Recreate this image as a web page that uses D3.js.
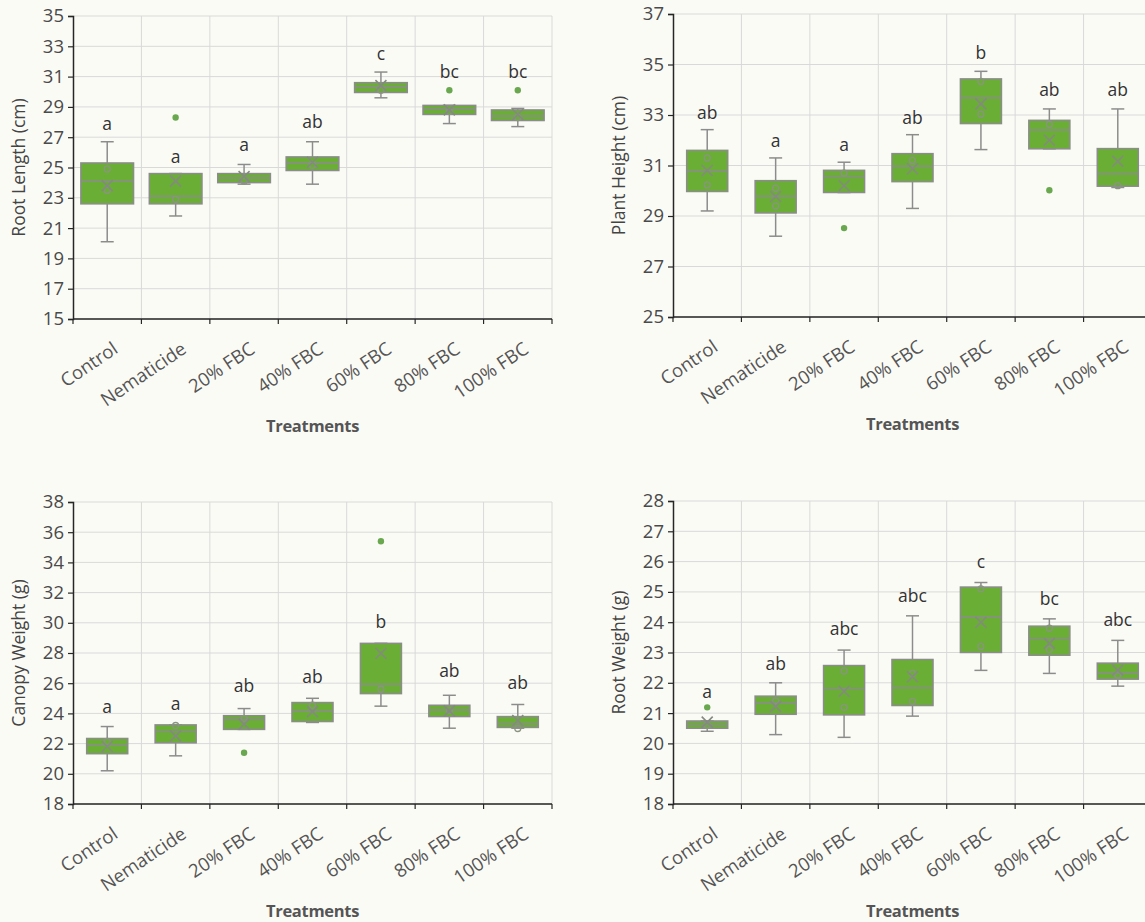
<!DOCTYPE html>
<html lang="en">
<head>
  <meta charset="utf-8">
  <title>Treatment box plots</title>
  <script src="https://d3js.org/d3.v7.min.js"></script>
  <style>
    body {
      margin: 0;
      background: #fbfbf6;
      font-family: "Open Sans", "Noto Sans", sans-serif;
    }
    svg { display: block; }
  </style>
</head>
<body>
  <svg id="chart" width="1145" height="922"></svg>

  <script>
    // categories shared by all four panels
    const treatments = ["Control", "Nematicide", "20% FBC", "40% FBC", "60% FBC", "80% FBC", "100% FBC"];

    // Root length (cm)
    const rlLow    = [20.1, 21.8, 23.9, 23.9, 29.6, 27.9, 27.7];
    const rlQ1     = [22.6, 22.6, 24.0, 24.8, 29.95, 28.5, 28.1];
    const rlMedian = [24.1, 23.1, 24.3, 25.3, 30.3, 28.85, 28.4];
    const rlQ3     = [25.3, 24.6, 24.6, 25.7, 30.6, 29.1, 28.8];
    const rlHigh   = [26.7, 24.6, 25.2, 26.7, 31.3, 29.1, 28.9];
    const rlMean   = [23.8, 24.1, 24.4, 25.35, 30.4, 28.8, 28.5];
    const rlInner  = [[24.9, 23.5], [22.9], [24.1], [25.15], [30.1], [28.7], [28.3]];
    const rlOut    = [[], [28.3], [], [], [], [30.1], [30.1]];
    const rlLetter = ["a", "a", "a", "ab", "c", "bc", "bc"];
    const rlLetterAt = [27.9, 25.7, 26.5, 28.0, 32.5, 31.3, 31.3];

    // Plant height (cm)
    const phLow    = [29.2, 28.2, 29.93, 29.3, 31.63, 31.66, 30.13];
    const phQ1     = [29.97, 29.12, 29.93, 30.36, 32.66, 31.66, 30.18];
    const phMedian = [30.77, 29.78, 30.56, 30.97, 33.68, 32.41, 30.67];
    const phQ3     = [31.6, 30.4, 30.81, 31.47, 34.43, 32.79, 31.67];
    const phHigh   = [32.42, 31.3, 31.13, 32.22, 34.73, 33.24, 33.24];
    const phMean   = [30.8, 29.77, 30.2, 30.87, 33.44, 32.0, 31.17];
    const phInner  = [[31.3, 30.23], [30.1, 29.4], [30.7], [31.2], [34.33, 33.03], [32.63], [30.2]];
    const phOut    = [[], [], [28.52], [], [], [30.02], []];
    const phLetter = ["ab", "a", "a", "ab", "b", "ab", "ab"];
    const phLetterAt = [33.1, 31.96, 31.8, 32.9, 35.47, 33.99, 33.99];

    // Canopy weight (g)
    const cwLow    = [20.2, 21.19, 22.94, 23.4, 24.48, 23.02, 23.02];
    const cwQ1     = [21.33, 22.05, 22.94, 23.46, 25.31, 23.79, 23.07];
    const cwMedian = [21.92, 22.8, 23.6, 24.17, 25.93, 24.23, 23.31];
    const cwQ3     = [22.34, 23.24, 23.85, 24.72, 28.64, 24.54, 23.79];
    const cwHigh   = [23.13, 23.24, 24.32, 25.0, 28.64, 25.2, 24.59];
    const cwMean   = [21.81, 22.51, 23.29, 24.12, 27.98, 24.17, 23.53];
    const cwInner  = [[22.14], [23.2], [23.66], [24.54], [25.6], [24.2], [23.0]];
    const cwOut    = [[], [], [21.39], [], [35.4], [], []];
    const cwLetter = ["a", "a", "ab", "ab", "b", "ab", "ab"];
    const cwLetterAt = [24.45, 24.63, 25.82, 26.39, 30.07, 26.83, 26.04];

    // Root weight (g)
    const rwLow    = [20.4, 20.29, 20.2, 20.9, 22.41, 22.31, 21.89];
    const rwQ1     = [20.5, 20.96, 20.94, 21.25, 23.0, 22.91, 22.12];
    const rwMedian = [20.63, 21.33, 21.81, 21.84, 24.17, 23.46, 22.32];
    const rwQ3     = [20.74, 21.56, 22.57, 22.77, 25.16, 23.87, 22.65];
    const rwHigh   = [20.74, 22.0, 23.08, 24.21, 25.31, 24.11, 23.4];
    const rwMean   = [20.7, 21.22, 21.72, 22.2, 24.0, 23.3, 22.42];
    const rwInner  = [[20.6], [21.4], [22.39, 21.19], [22.31, 21.39], [25.1, 23.2], [23.8, 23.1], [22.26]];
    const rwOut    = [[21.19], [], [], [], [], [], []];
    const rwLetter = ["a", "ab", "abc", "abc", "c", "bc", "abc"];
    const rwLetterAt = [21.71, 22.62, 23.77, 24.87, 25.99, 24.76, 24.07];

    function rows(lo, q1, med, q3, hi, mean, inner, out, letter, letterAt) {
      return treatments.map((t, i) => ({
        name: t, lo: lo[i], q1: q1[i], med: med[i], q3: q3[i], hi: hi[i],
        mean: mean[i], inner: inner[i], out: out[i], letter: letter[i], letterAt: letterAt[i]
      }));
    }

    const panels = [
      { title: "Root Length (cm)", domain: [15, 35], step: 2, boxRatio: 0.77,
        box: { left: 73, right: 552, top: 16, bottom: 319 },
        data: rows(rlLow, rlQ1, rlMedian, rlQ3, rlHigh, rlMean, rlInner, rlOut, rlLetter, rlLetterAt) },
      { title: "Plant Height (cm)", domain: [25, 37], step: 2, boxRatio: 0.6,
        box: { left: 673, right: 1152, top: 14, bottom: 317 },
        data: rows(phLow, phQ1, phMedian, phQ3, phHigh, phMean, phInner, phOut, phLetter, phLetterAt) },
      { title: "Canopy Weight (g)", domain: [18, 38], step: 2, boxRatio: 0.6,
        box: { left: 73, right: 552, top: 502, bottom: 804 },
        data: rows(cwLow, cwQ1, cwMedian, cwQ3, cwHigh, cwMean, cwInner, cwOut, cwLetter, cwLetterAt) },
      { title: "Root Weight (g)", domain: [18, 28], step: 1, boxRatio: 0.6,
        box: { left: 673, right: 1152, top: 501, bottom: 804 },
        data: rows(rwLow, rwQ1, rwMedian, rwQ3, rwHigh, rwMean, rwInner, rwOut, rwLetter, rwLetterAt) }
    ];

    const green = "#6aae35";
    const boxLine = "#8c8c8c";
    const svg = d3.select("#chart");

    panels.forEach(p => {
      const b = p.box;
      const g = svg.append("g");

      const x = d3.scaleBand().domain(treatments).range([b.left, b.right]);
      const y = d3.scaleLinear().domain(p.domain).range([b.bottom, b.top]);
      const yTicks = d3.range(p.domain[0], p.domain[1] + 0.001, p.step);
      const bounds = treatments.map(t => x(t)).concat([b.right]);

      // grid
      g.append("g").selectAll("line")
        .data(yTicks)
        .join("line")
          .attr("x1", b.left).attr("x2", b.right)
          .attr("y1", d => y(d)).attr("y2", d => y(d))
          .attr("stroke", "#d9d9d9").attr("stroke-width", 1);
      g.append("g").selectAll("line")
        .data(bounds.slice(1))
        .join("line")
          .attr("x1", d => d).attr("x2", d => d)
          .attr("y1", b.top).attr("y2", b.bottom)
          .attr("stroke", "#d9d9d9").attr("stroke-width", 1);

      // y axis
      const yAxis = g.append("g")
        .attr("transform", `translate(${b.left},0)`)
        .call(d3.axisLeft(y).tickValues(yTicks).tickSize(5).tickPadding(4).tickFormat(d3.format("d")));
      yAxis.select(".domain").attr("stroke", "#262626").attr("stroke-width", 1.5);
      yAxis.selectAll(".tick line").attr("stroke", "#262626").attr("stroke-width", 1.2);
      yAxis.selectAll("text")
        .attr("fill", "#4a4a4a")
        .style("font-size", "18.5px")
        .style("font-family", "'Open Sans', sans-serif");

      // x axis line and band ticks
      g.append("line")
        .attr("x1", b.left).attr("x2", b.right)
        .attr("y1", b.bottom).attr("y2", b.bottom)
        .attr("stroke", "#262626").attr("stroke-width", 1.5);
      g.append("g").selectAll("line")
        .data(bounds)
        .join("line")
          .attr("x1", d => d).attr("x2", d => d)
          .attr("y1", b.bottom).attr("y2", b.bottom + 5)
          .attr("stroke", "#262626").attr("stroke-width", 1.2);

      // category labels
      g.append("g").selectAll("text")
        .data(treatments)
        .join("text")
          .attr("transform", d => `translate(${x(d) + x.bandwidth() / 2 + 12},${b.bottom + 33}) rotate(-34)`)
          .attr("text-anchor", "end")
          .attr("fill", "#555")
          .style("font-size", "18.5px")
          .text(d => d);

      // axis titles
      g.append("text")
        .attr("transform", `translate(${b.left - 48},${(b.top + b.bottom) / 2}) rotate(-90)`)
        .attr("text-anchor", "middle")
        .attr("fill", "#444")
        .style("font-size", "17.5px")
        .text(p.title);
      g.append("text")
        .attr("x", (b.left + b.right) / 2)
        .attr("y", b.bottom + 113)
        .attr("text-anchor", "middle")
        .attr("fill", "#555")
        .style("font-size", "16.5px")
        .style("font-weight", "bold")
        .style("letter-spacing", "-0.3px")
        .text("Treatments");

      // boxes
      const bw = x.bandwidth() * p.boxRatio;
      const cap = 6.5;
      const item = g.append("g").selectAll("g")
        .data(p.data)
        .join("g")
          .attr("transform", d => `translate(${x(d.name) + x.bandwidth() / 2},0)`);

      item.append("line")
        .attr("y1", d => y(d.hi)).attr("y2", d => y(d.q3))
        .attr("stroke", boxLine).attr("stroke-width", 1.5);
      item.append("line")
        .attr("y1", d => y(d.lo)).attr("y2", d => y(d.q1))
        .attr("stroke", boxLine).attr("stroke-width", 1.5);
      item.append("line")
        .attr("x1", -cap).attr("x2", cap)
        .attr("y1", d => y(d.hi)).attr("y2", d => y(d.hi))
        .attr("stroke", boxLine).attr("stroke-width", 1.5);
      item.append("line")
        .attr("x1", -cap).attr("x2", cap)
        .attr("y1", d => y(d.lo)).attr("y2", d => y(d.lo))
        .attr("stroke", boxLine).attr("stroke-width", 1.5);
      item.append("rect")
        .attr("x", -bw / 2).attr("width", bw)
        .attr("y", d => y(d.q3))
        .attr("height", d => Math.max(1, y(d.q1) - y(d.q3)))
        .attr("fill", green)
        .attr("stroke", boxLine).attr("stroke-width", 1.5);
      item.append("line")
        .attr("x1", -bw / 2).attr("x2", bw / 2)
        .attr("y1", d => y(d.med)).attr("y2", d => y(d.med))
        .attr("stroke", boxLine).attr("stroke-width", 1.5);

      // inner points
      item.selectAll("circle.inner")
        .data(d => d.inner)
        .join("circle")
          .attr("class", "inner")
          .attr("cy", v => y(v)).attr("r", 3)
          .attr("fill", "none")
          .attr("stroke", "#8a9580").attr("stroke-width", 1.3);

      // mean marker
      item.append("path")
        .attr("d", d => {
          const m = y(d.mean), s = 5.5;
          return `M${-s},${m - s}L${s},${m + s}M${-s},${m + s}L${s},${m - s}`;
        })
        .attr("stroke", "#858a80").attr("stroke-width", 1.6);

      // outliers
      item.selectAll("circle.out")
        .data(d => d.out)
        .join("circle")
          .attr("class", "out")
          .attr("cy", v => y(v)).attr("r", 3.2)
          .attr("fill", "#6aa84f");

      // letters
      item.append("text")
        .attr("y", d => y(d.letterAt))
        .attr("dy", "0.35em")
        .attr("text-anchor", "middle")
        .attr("fill", "#333")
        .style("font-size", "17.5px")
        .text(d => d.letter);
    });
  </script>
</body>
</html>
